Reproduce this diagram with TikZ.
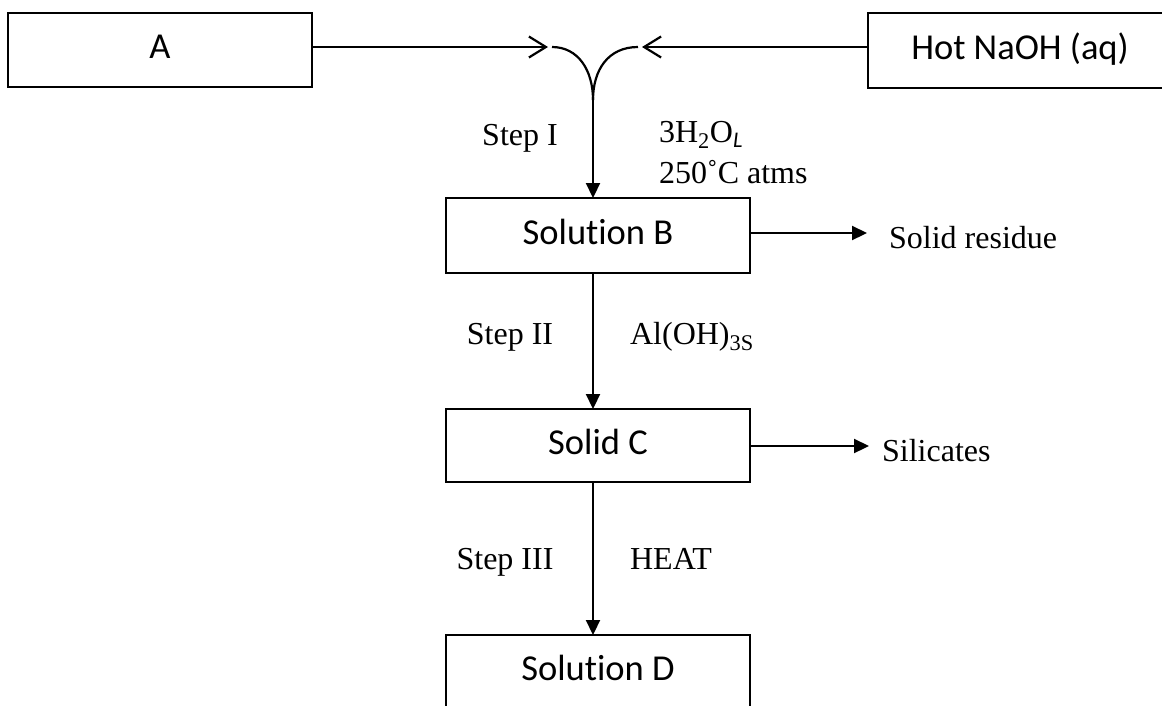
\documentclass[tikz,border=0pt]{standalone}
\usepackage{fontspec}
\setmainfont{Liberation Serif}
\newfontfamily\boxfont{Carlito}[RawFeature={-liga;-clig;-dlig}]
\usetikzlibrary{arrows.meta}
\begin{document}
\begin{tikzpicture}[x=1pt,y=-1pt, line width=2.2pt,
 box/.style={draw, line width=2pt, minimum width=304pt, inner sep=0pt, outer sep=0pt,
   font=\boxfont\fontsize{36.5}{44}\selectfont, text height=26pt, text depth=9pt},
 lbl/.style={inner sep=0pt, font=\fontsize{32}{38}\selectfont},
 fillarrow/.style={-{Triangle[length=15pt,width=14pt]}},
 openarrow/.style={-{Straight Barb[length=17pt,width=21pt]}}]
\path[use as bounding box] (0,0) rectangle (1162,705);
\clip (0,0) rectangle (1162,705);
\node[box, minimum height=74pt] (A) at (160,50) {A};
\node[box, minimum height=75pt] (N) at (1020,50.5) {Hot NaOH (aq)};
\node[box, minimum height=75pt] (B) at (598,235.5) {Solution B};
\node[box, minimum height=73pt] (C) at (598,445.5) {Solid C};
\node[box, minimum height=74pt] (D) at (598,672) {Solution D};

\coordinate (tipL) at (548,47);
\coordinate (tipR) at (642,47);
\coordinate (cL) at (552,47);
\coordinate (cR) at (638,47);
\coordinate (j) at (593,100);

\draw[openarrow] (A.east |- tipL) -- (tipL);
\draw[openarrow] (N.west |- tipR) -- (tipR);
\draw (cL) .. controls (578,47) and (593,70) .. (j);
\draw (cR) .. controls (608,47) and (593,70) .. (j);
\draw[fillarrow] (j) -- (j |- B.north);
\draw[fillarrow] (j |- B.south) -- (j |- C.north);
\draw[fillarrow] (j |- C.south) -- (j |- D.north);

\node[lbl, anchor=base west] (res) at (888,248) {Solid residue};
\coordinate (rB) at (867,233);
\draw[fillarrow] (B.east |- rB) -- (rB);
\node[lbl, anchor=base west] (sil) at (881,461) {Silicates};
\coordinate (rC) at (869,446);
\draw[fillarrow] (C.east |- rC) -- (rC);

\node[lbl, anchor=base] (s1) at (520,145) {Step I};
\node[lbl, anchor=base west] (w1) at (658,142) {3H\textsubscript{2}O\textsubscript{\boxfont\itshape L}};
\node[lbl, anchor=base west] (t1) at (658,183) {250˚C atms};
\node[lbl, anchor=base] (s2) at (510,344) {Step II};
\node[lbl, anchor=base west] (w2) at (629,344) {Al(OH)\textsubscript{3S}};
\node[lbl, anchor=base] (s3) at (505,569) {Step III};
\node[lbl, anchor=base west] (w3) at (629,569) {HEAT};
\end{tikzpicture}
\end{document}
